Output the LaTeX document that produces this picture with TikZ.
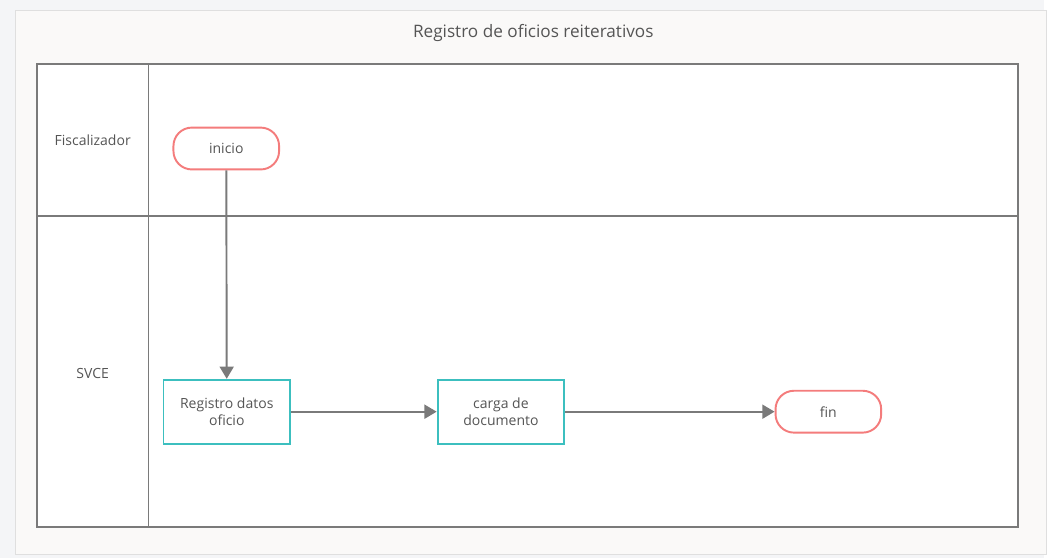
\documentclass[tikz,border=0pt]{standalone}
\usepackage{fontspec}
\setmainfont{Open Sans}
\usetikzlibrary{arrows.meta}
\definecolor{linegray}{HTML}{7A7A7A}
\definecolor{textgray}{HTML}{555555}
\definecolor{startred}{HTML}{F47C7C}
\definecolor{taskteal}{HTML}{3CBFBF}
\definecolor{pagebg}{HTML}{F4F5F7}
\definecolor{panelbg}{HTML}{FAF9F8}
\begin{document}
\begin{tikzpicture}[
    x=0.02cm, y=-0.02cm,
    every node/.style={text=textgray, font=\fontsize{8}{9.6}\selectfont},
    terminal/.style={draw=startred, line width=1.1pt, rounded corners=10.5pt,
                     minimum width=2.12cm, minimum height=0.84cm, fill=white},
    task/.style={draw=taskteal, line width=1.1pt, minimum width=2.54cm,
                 minimum height=1.28cm, align=center, fill=white},
    flow/.style={-{Triangle[length=7pt,width=8pt]}, line width=1.1pt, draw=linegray},
  ]
  % page and panel
  \fill[pagebg] (0,0) rectangle (1047,560);
  \draw[gray!25, fill=panelbg] (15,10) rectangle (1050,556);
  % pool and lanes
  \draw[linegray, line width=1.1pt, fill=white] (37,64) rectangle (1021,529);
  \draw[linegray, line width=1.1pt] (149,64) -- (149,529);
  \draw[linegray, line width=1.1pt] (37,217) -- (1021,217);
  \node (title) at (535,33) {\fontsize{9.8}{11.5}\selectfont Registro de oficios reiterativos};
  \node (fisc) at (93,141) {Fiscalizador};
  \node (svce) at (93,375) {SVCE};
  % shapes
  \node[terminal] (inicio) at (227,149) {inicio};
  \node[task] (registro) at (227.5,413) {Registro datos\\oficio};
  \node[task] (carga) at (502.5,413) {carga de\\documento};
  \node[terminal] (fin) at (831,413) {fin};
  % connectors
  \draw[flow] (inicio) -- (registro);
  \draw[flow] (registro) -- (carga);
  \draw[flow] (carga) -- (fin);
\end{tikzpicture}
\end{document}
